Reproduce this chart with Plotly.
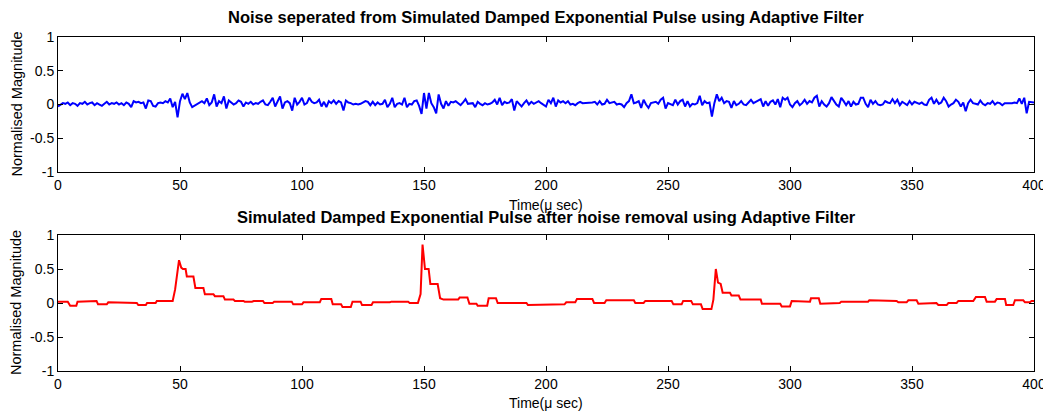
import plotly.graph_objects as go

# ---------------- data ----------------
noise = [
    -0.03, 0.0, 0.02, 0.01, 0.03, -0.01, 0.02, 0.01, -0.02, 0.02,
    0.01, 0.04, 0.0, 0.02, 0.03, -0.01, 0.02, 0.0, -0.02, 0.01,
    0.04, 0.0, 0.02, 0.01, 0.03, 0.0, 0.02, -0.01, 0.03, 0.01,
    -0.04, 0.05, 0.03, 0.04, 0.02, 0.03, -0.06, 0.06, 0.05, -0.02,
    -0.03, 0.02, 0.03, 0.02, 0.05, 0.03, 0.09, -0.04, 0.04, -0.19,
    0.05, 0.16, 0.08, 0.17, 0.03, -0.04, -0.02, 0.0, 0.03, 0.05,
    0.02, 0.09, -0.01, 0.03, 0.15, -0.03, 0.05, 0.02, 0.12, -0.06,
    0.06, 0.03, 0.0, 0.02, 0.06, 0.04, -0.03, 0.03, 0.01, 0.04,
    0.0, 0.02, 0.01, 0.04, 0.06, 0.0, -0.01, 0.04, 0.1, -0.03,
    0.05, 0.12, -0.06, 0.03, 0.05, 0.02, -0.09, 0.1, 0.0, 0.04,
    0.1, 0.0, 0.02, 0.1, 0.04, 0.02, 0.03, 0.07, -0.03, 0.04,
    -0.04, 0.05, 0.02, 0.06, 0.01, 0.05, 0.03, -0.09, 0.06, 0.03,
    0.02, 0.0, 0.01, 0.0, 0.01, 0.03, 0.05, 0.04, -0.01, 0.04,
    -0.01, 0.03, 0.0, 0.01, 0.07, -0.04, 0.01, 0.1, -0.04, 0.01,
    0.02, 0.0, 0.1, -0.04, 0.01, 0.0, 0.05, 0.06, -0.02, -0.14,
    0.17, -0.06, 0.17, 0.02, -0.04, -0.13, 0.15, 0.01, -0.06, 0.05,
    -0.02, 0.04, 0.03, 0.05, 0.02, -0.01, 0.03, 0.08, 0.01, 0.02,
    0.02, -0.04, 0.04, 0.01, -0.01, 0.02, 0.0, 0.01, 0.03, 0.07,
    0.0, 0.1, -0.01, 0.04, 0.02, 0.03, 0.08, -0.09, 0.05, 0.01,
    -0.03, 0.02, 0.06, 0.0, 0.04, 0.01, 0.03, 0.05, 0.02, 0.0,
    -0.03, 0.07, 0.02, 0.1, -0.03, 0.06, 0.03, 0.05, 0.02, 0.05,
    0.0, 0.01, -0.01, 0.02, 0.04, 0.02, 0.02, 0.03, 0.02, 0.03,
    0.04, 0.0, 0.05, 0.0, 0.01, 0.07, 0.02, 0.03, 0.04, 0.0,
    0.01, 0.0, -0.04, 0.02, 0.05, 0.15, 0.02, 0.03, 0.05, -0.05,
    0.07, 0.0, -0.05, 0.02, 0.03, 0.04, 0.01, 0.07, 0.1, -0.06,
    0.02, 0.0, -0.01, 0.07, 0.0, 0.05, 0.07, -0.03, 0.05, -0.03,
    0.01, 0.0, 0.02, 0.13, -0.01, 0.05, 0.02, 0.03, -0.18, 0.02,
    0.15, 0.05, 0.1, 0.02, 0.05, 0.04, -0.05, 0.05, -0.01, 0.01,
    0.05, 0.0, -0.01, 0.03, 0.07, 0.02, 0.04, 0.05, 0.08, -0.03,
    0.05, -0.02, 0.04, 0.06, 0.0, 0.08, -0.04, 0.1, 0.07, 0.1,
    0.0, -0.04, 0.02, 0.05, -0.01, 0.02, 0.07, 0.01, 0.05, 0.03,
    0.1, 0.13, -0.03, 0.05, 0.0, -0.03, 0.02, 0.11, 0.05, 0.0,
    -0.03, 0.1, 0.05, -0.01, 0.05, -0.03, 0.04, 0.0, 0.01, 0.1,
    0.1, 0.01, -0.04, 0.07, 0.01, 0.05, 0.0, -0.01, 0.0, 0.05,
    0.03, 0.02, 0.08, 0.02, 0.07, -0.01, 0.04, 0.02, -0.01, 0.05,
    0.0, 0.04, 0.02, 0.01, 0.03, 0.0, -0.01, 0.07, 0.1, 0.01,
    0.07, 0.01, 0.03, 0.1, 0.05, -0.03, 0.0, 0.02, 0.07, 0.04,
    -0.03, 0.03, -0.1, 0.02, 0.07, 0.02, 0.01, 0.0, 0.06, 0.01,
    -0.01, 0.02, 0.01, 0.05, 0.0, 0.03, 0.02, -0.01, 0.02, 0.02,
    0.01, 0.02, 0.03, 0.02, 0.09, 0.01, 0.1, -0.13, 0.04, 0.03,
    0.03,
]
noise_time = list(range(len(noise)))

clean_time = [
    0, 4, 5, 7.5, 8, 11.7, 12.3, 15.8, 16.4, 20, 20.6, 24, 24.6, 32.3, 32.9, 36,
    36.5, 40, 40.5, 47, 48, 49.6, 50.5, 51.2, 52.3, 52.8, 55.5, 56.3, 59.6, 60.2,
    63.7, 64.3, 67.8, 68.4, 71.9, 72.5, 76, 76.5, 79.5, 80.2, 84, 84.6, 88, 88.6,
    95.8, 96.4, 100, 100.6, 107.3, 107.9, 112, 112.6, 116, 116.6, 120, 120.7, 124,
    124.6, 128.5, 129.1, 136, 136.6, 143.5, 144.1, 147.5, 148.6, 149.4, 150.4,
    151.9, 152.6, 155.6, 156.6, 158, 164, 164.6, 167.8, 168.6, 171.5, 172, 175.9,
    176.5, 179.5, 180.2, 192, 192.6, 196, 196.6, 207.6, 208.3, 212, 212.7, 219,
    219.7, 224, 224.7, 236, 236.6, 240, 240.7, 251.5, 252.2, 255.6, 256.2, 259.5,
    260.2, 263.5, 264.2, 267.8, 268.6, 269.6, 270.5, 271.6, 272.4, 275.4, 276,
    279, 279.7, 288, 288.5, 296, 296.6, 300, 300.7, 304, 304.8, 308.2, 308.6,
    311.8, 312.4, 316.4, 317, 320.4, 321, 332, 332.5, 335.5, 336.2, 343.7, 344.4,
    347.8, 348.5, 351.9, 352.6, 356, 356.7, 360, 360.8, 364.2, 364.9, 368.3, 369,
    375.1, 376.2, 379.9, 380.6, 384, 384.7, 388.1, 388.6, 391.5, 392.2, 395.6,
    396.3, 398.3, 399, 400,
]
clean_value = [
    0.02, 0.02, -0.04, -0.04, 0.02, 0.02, 0.03, 0.03, -0.02, -0.02, 0.01, 0.01,
    0.0, 0.0, -0.03, -0.03, 0.0, 0.0, 0.03, 0.03, 0.2, 0.63, 0.52, 0.5, 0.5,
    0.39, 0.39, 0.22, 0.22, 0.13, 0.13, 0.1, 0.1, 0.05, 0.05, 0.03, 0.03, 0.02,
    0.02, 0.03, 0.03, 0.0, 0.0, 0.02, 0.02, -0.02, -0.02, 0.01, 0.01, 0.06, 0.06,
    -0.02, -0.02, -0.06, -0.06, 0.02, 0.02, -0.03, -0.03, 0.01, 0.01, 0.02, 0.02,
    0.0, 0.0, 0.13, 0.86, 0.5, 0.5, 0.28, 0.28, 0.07, 0.05, 0.05, 0.08, 0.08,
    -0.01, -0.01, -0.04, -0.04, 0.07, 0.07, 0.0, 0.0, -0.03, -0.03, -0.02, -0.02,
    0.01, 0.01, 0.06, 0.06, 0.0, 0.0, 0.04, 0.04, 0.0, 0.0, 0.03, 0.03, -0.02,
    -0.02, 0.03, 0.03, -0.02, -0.02, -0.09, -0.09, 0.05, 0.5, 0.3, 0.28, 0.15,
    0.15, 0.11, 0.11, 0.05, 0.05, -0.01, -0.01, -0.05, -0.05, 0.03, 0.03, 0.02,
    0.02, 0.07, 0.07, -0.01, -0.01, 0.0, 0.0, 0.02, 0.02, 0.04, 0.04, 0.03, 0.03,
    0.01, 0.01, 0.04, 0.04, -0.01, -0.01, 0.0, 0.0, -0.03, -0.03, 0.0, 0.0, 0.03,
    0.03, 0.09, 0.09, 0.02, 0.02, 0.06, 0.06, -0.03, -0.03, 0.04, 0.04, 0.01,
    0.01, 0.03, 0.03,
]

x_ticks = [0, 50, 100, 150, 200, 250, 300, 350, 400]
x_tick_labels = ["0", "50", "100", "150", "200", "250", "300", "350", "400"]
y_ticks = [-1, -0.5, 0, 0.5, 1]
y_tick_labels = ["-1", "-0.5", "0", "0.5", "1"]

title_top = "Noise seperated from Simulated Damped Exponential Pulse using Adaptive Filter"
title_bottom = "Simulated Damped Exponential Pulse after noise removal using Adaptive Filter"
x_label = "Time(\u03bc sec)"
y_label = "Normalised Magnitude"

# ---------------- figure ----------------
# the page body has an 8px margin, so the figure is drawn 8px right/down
OFF = 8
W, H = 1051 - OFF, 412 - OFF
FONT = "Liberation Sans, Arial, sans-serif"


def px_x(p):
    return (p - OFF) / W


def px_y(p):
    return (H - (p - OFF)) / H


fig = go.Figure()
fig.add_trace(go.Scatter(x=noise_time, y=noise, mode="lines",
                         line=dict(color="#0000ff", width=2),
                         xaxis="x", yaxis="y", showlegend=False))
fig.add_trace(go.Scatter(x=clean_time, y=clean_value, mode="lines",
                         line=dict(color="#ff0000", width=2),
                         xaxis="x2", yaxis="y2", showlegend=False))

xdom = [px_x(58), px_x(1034)]
top_dom = [px_y(172), px_y(37)]
bot_dom = [px_y(371), px_y(235)]

axis_common = dict(
    showline=True, linecolor="black", linewidth=1, mirror="ticks",
    ticks="inside", ticklen=5, tickcolor="black", tickwidth=1,
    showgrid=False, zeroline=False, automargin=False,
    tickfont=dict(family=FONT, size=14, color="black"),
)

fig.update_layout(
    width=W, height=H,
    margin=dict(l=0, r=0, t=0, b=0, autoexpand=False),
    paper_bgcolor="white", plot_bgcolor="white",
    xaxis=dict(domain=xdom, anchor="y", range=[0, 400], tickvals=x_ticks,
               ticktext=x_tick_labels, **axis_common),
    yaxis=dict(domain=top_dom, anchor="x", range=[-1, 1], tickvals=y_ticks,
               ticktext=y_tick_labels, **axis_common),
    xaxis2=dict(domain=xdom, anchor="y2", range=[0, 400], tickvals=x_ticks,
                ticktext=x_tick_labels, **axis_common),
    yaxis2=dict(domain=bot_dom, anchor="x2", range=[-1, 1], tickvals=y_ticks,
                ticktext=y_tick_labels, **axis_common),
)

xc = (xdom[0] + xdom[1]) / 2
ann = []
ann.append(dict(text="<b>" + title_top + "</b>", x=xc, y=px_y(17),
                font=dict(family=FONT, size=16.5, color="black")))
ann.append(dict(text="<b>" + title_bottom + "</b>", x=xc, y=px_y(217),
                font=dict(family=FONT, size=16.5, color="black")))
ann.append(dict(text=x_label, x=xc, y=px_y(205),
                font=dict(family=FONT, size=14, color="black")))
ann.append(dict(text=x_label, x=xc, y=px_y(403),
                font=dict(family=FONT, size=14, color="black")))
ann.append(dict(text=y_label, x=px_x(16), y=sum(top_dom) / 2, textangle=-90,
                font=dict(family=FONT, size=14.5, color="black")))
ann.append(dict(text=y_label, x=px_x(16), y=sum(bot_dom) / 2, textangle=-90,
                font=dict(family=FONT, size=14.5, color="black")))
for a in ann:
    a.update(xref="paper", yref="paper", showarrow=False,
             xanchor="center", yanchor="middle")
fig.update_layout(annotations=ann)

fig.write_html("out.html")
